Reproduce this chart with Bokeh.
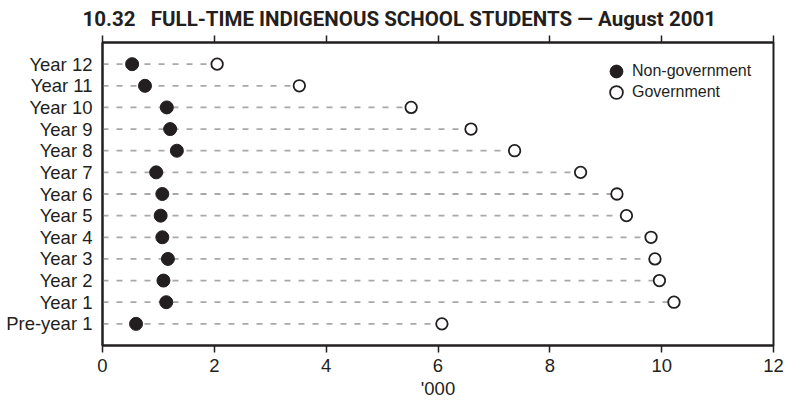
from bokeh.plotting import figure
from bokeh.models import (FixedTicker, LinearAxis, Range1d, Legend, LegendItem,
                          ColumnDataSource)
from bokeh.embed import file_html
from bokeh.resources import INLINE

# ---- data ----
categories = ["Year 12", "Year 11", "Year 10", "Year 9", "Year 8", "Year 7",
              "Year 6", "Year 5", "Year 4", "Year 3", "Year 2", "Year 1",
              "Pre-year 1"]
non_government = [0.53, 0.76, 1.15, 1.21, 1.33, 0.96, 1.07, 1.04, 1.07,
                  1.17, 1.09, 1.14, 0.60]
government = [2.05, 3.52, 5.52, 6.59, 7.37, 8.55, 9.20, 9.37, 9.81,
              9.88, 9.96, 10.22, 6.07]
x_ticks = [0, 2, 4, 6, 8, 10, 12]
series_names = ["Non-government", "Government"]
title_text = "10.32\u00a0\u00a0\u00a0FULL-TIME INDIGENOUS SCHOOL STUDENTS \u2014 August 2001"
x_label = "'000"

n = len(categories)
ypos = [n - i for i in range(n)]
src = ColumnDataSource(dict(cat=categories, y=ypos, ng=non_government,
                            g=government, zero=[0] * n))

INK = "#231f20"
FONT = "'Liberation Sans', Arial, sans-serif"
TFONT = "Roboto, 'Liberation Sans', sans-serif"

p = figure(width=786, height=401, output_backend="svg", toolbar_location=None,
           x_range=Range1d(0, 12), y_range=Range1d(0, n + 1),
           min_border_left=102, min_border_right=13, min_border_top=42,
           min_border_bottom=55)

p.xgrid.visible = False
p.ygrid.visible = False
p.outline_line_color = INK
p.outline_line_width = 2
p.background_fill_color = "white"
p.border_fill_color = "white"

# title
p.title.text = title_text
p.title.text_font = TFONT
p.title.text_font_size = "20.5px"
p.title.text_font_style = "bold"
p.title.text_color = INK
p.title.align = "left"
p.title.offset = -20
p.title.standoff = 9

# bottom axis
xa = p.xaxis[0]
xa.ticker = FixedTicker(ticks=x_ticks)
xa.axis_line_color = INK
xa.axis_line_width = 2
xa.major_tick_line_color = INK
xa.major_tick_line_width = 1.5
xa.major_tick_out = 7
xa.major_tick_in = 0
xa.minor_tick_out = 0
xa.minor_tick_in = 0
xa.major_label_standoff = 6
xa.major_label_text_font = FONT
xa.major_label_text_font_size = "18.5px"
xa.major_label_text_color = INK
xa.axis_label = x_label
xa.axis_label_standoff = 3
xa.axis_label_text_font = FONT
xa.axis_label_text_font_size = "18.5px"
xa.axis_label_text_font_style = "normal"
xa.axis_label_text_color = INK

# top axis (ticks only)
ta = LinearAxis(ticker=FixedTicker(ticks=x_ticks))
ta.axis_line_color = INK
ta.axis_line_width = 2
ta.major_tick_line_color = INK
ta.major_tick_line_width = 1.5
ta.major_tick_out = 7
ta.major_tick_in = 0
ta.minor_tick_out = 0
ta.minor_tick_in = 0
ta.major_label_text_color = None
ta.major_label_text_font_size = "1px"
ta.major_label_standoff = 0
p.add_layout(ta, "above")

# left axis
ya = p.yaxis[0]
ya.ticker = FixedTicker(ticks=ypos)
ya.major_label_overrides = {y: c for y, c in zip(ypos, categories)}
ya.axis_line_color = INK
ya.axis_line_width = 2
ya.major_tick_out = 0
ya.major_tick_in = 0
ya.minor_tick_out = 0
ya.minor_tick_in = 0
ya.major_label_standoff = 10
ya.major_label_text_font = FONT
ya.major_label_text_font_size = "18.5px"
ya.major_label_text_color = INK

# dashed leader lines
p.segment(x0="zero", y0="y", x1="g", y1="y", source=src,
          line_color="#a8a8a8", line_width=1.8, line_dash="6 8")

r_g = p.scatter("g", "y", source=src, size=11.5, marker="circle",
                fill_color="white", line_color=INK, line_width=1.8)
r_ng = p.scatter("ng", "y", source=src, size=13, marker="circle",
                 fill_color=INK, line_color=INK, line_width=1)


def make_legend(label, renderer, loc):
    lg = Legend(items=[LegendItem(label=label, renderers=[renderer])],
                location=loc)
    lg.border_line_color = None
    lg.background_fill_alpha = 0
    lg.label_text_font = FONT
    lg.label_text_font_size = "16px"
    lg.label_text_color = INK
    lg.glyph_width = 32
    lg.glyph_height = 32
    lg.label_height = 22
    lg.spacing = 0
    lg.padding = 0
    lg.margin = 0
    lg.label_standoff = 0
    return lg


p.add_layout(make_legend(series_names[0], r_ng, (498, 258)))
p.add_layout(make_legend(series_names[1], r_g, (498, 237)))

open("out.html", "w").write(file_html(p, INLINE))
